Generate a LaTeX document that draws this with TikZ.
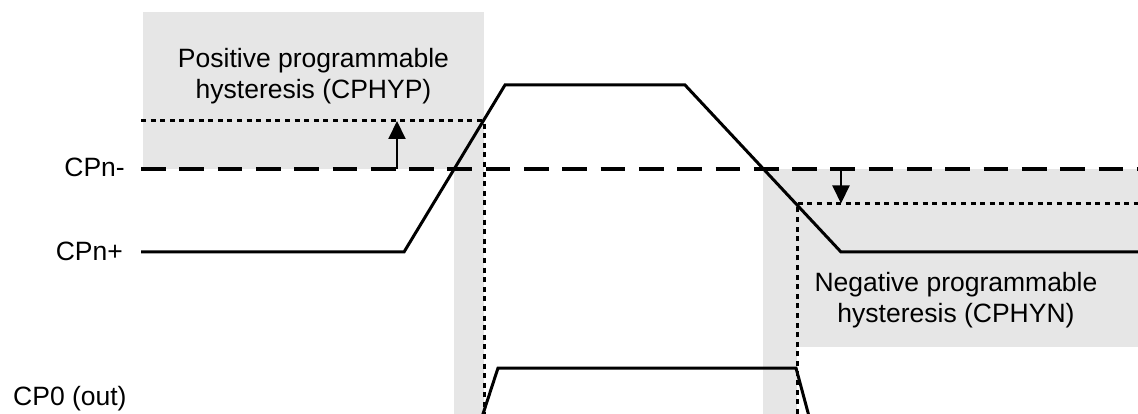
\documentclass[tikz,border=0pt]{standalone}
\usepackage{fontspec}
\setmainfont{Liberation Sans}
\usetikzlibrary{arrows.meta}
\definecolor{hyst}{RGB}{230,230,230}
\begin{document}
\begin{tikzpicture}[x=1pt,y=-1pt,
  sig/.style={line width=3pt, line join=miter},
  thr/.style={line width=3.2pt, dash pattern=on 24.7pt off 13.6pt},
  hyline/.style={line width=3pt, dash pattern=on 5pt off 4.6pt},
  hyarrow/.style={line width=2pt, -{Triangle[length=18pt,width=17pt]}},
  lbl/.style={font=\fontsize{26.5}{31}\selectfont, inner sep=0pt},
  zone/.style={fill=hyst, draw=none}]
\useasboundingbox (0,0) rectangle (1138,414);
\clip (0,0) rectangle (1138,414);
\fill[white] (0,0) rectangle (1138,414);
% hysteresis zones
\fill[zone] (143,12) rectangle (484,169);
\fill[zone] (454,169) rectangle (484,414);
\fill[zone] (763,169) rectangle (1138,347);
\fill[zone] (763,347) rectangle (797,414);
% key coordinates
\coordinate (mstart) at (141,169);
\coordinate (mend) at (1138,169);
\coordinate (p0) at (141,252);
\coordinate (p1) at (404,252);
\coordinate (p2) at (505,85);
\coordinate (p3) at (685,85);
\coordinate (p4) at (841,252);
\coordinate (p5) at (1138,252);
\coordinate (hypL) at (141,121);
\coordinate (hypR) at (484,121);
\coordinate (hypB) at (484,414);
\coordinate (hynL) at (797,203.5);
\coordinate (hynR) at (1138,203.5);
\coordinate (hynB) at (797,414);
\coordinate (aupS) at (397,169);
\coordinate (aupE) at (397,121);
\coordinate (adnS) at (841,169);
\coordinate (adnE) at (841,203.5);
\coordinate (o0) at (481,420);
\coordinate (o1) at (498,368);
\coordinate (o2) at (796,368);
\coordinate (o3) at (810,420);
% threshold and hysteresis levels
\draw[thr] (mstart) -- (mend);
\draw[hyline] (hypL) -- (hypR) -- (hypB);
\draw[hyline] (hynB) -- (hynL) -- (hynR);
\draw[hyarrow] (aupS) -- (aupE);
\draw[hyarrow] (adnS) -- (adnE);
% signals
\draw[sig] (p0) -- (p1) -- (p2) -- (p3) -- (p4) -- (p5);
\draw[sig] (o0) -- (o1) -- (o2) -- (o3);
% labels
\node[lbl, align=center] (hyp) at (313.5,76.5) {Positive programmable\\hysteresis (CPHYP)};
\node[lbl, align=center] (hyn) at (956,300.5) {Negative programmable\\hysteresis (CPHYN)};
\node[lbl, anchor=base east] (cpm) at (125,177) {CPn-};
\node[lbl, anchor=base east] (cpp) at (123,260.5) {CPn+};
\node[lbl, anchor=base west] (cpo) at (13,405) {CP0 (out)};
\end{tikzpicture}
\end{document}
